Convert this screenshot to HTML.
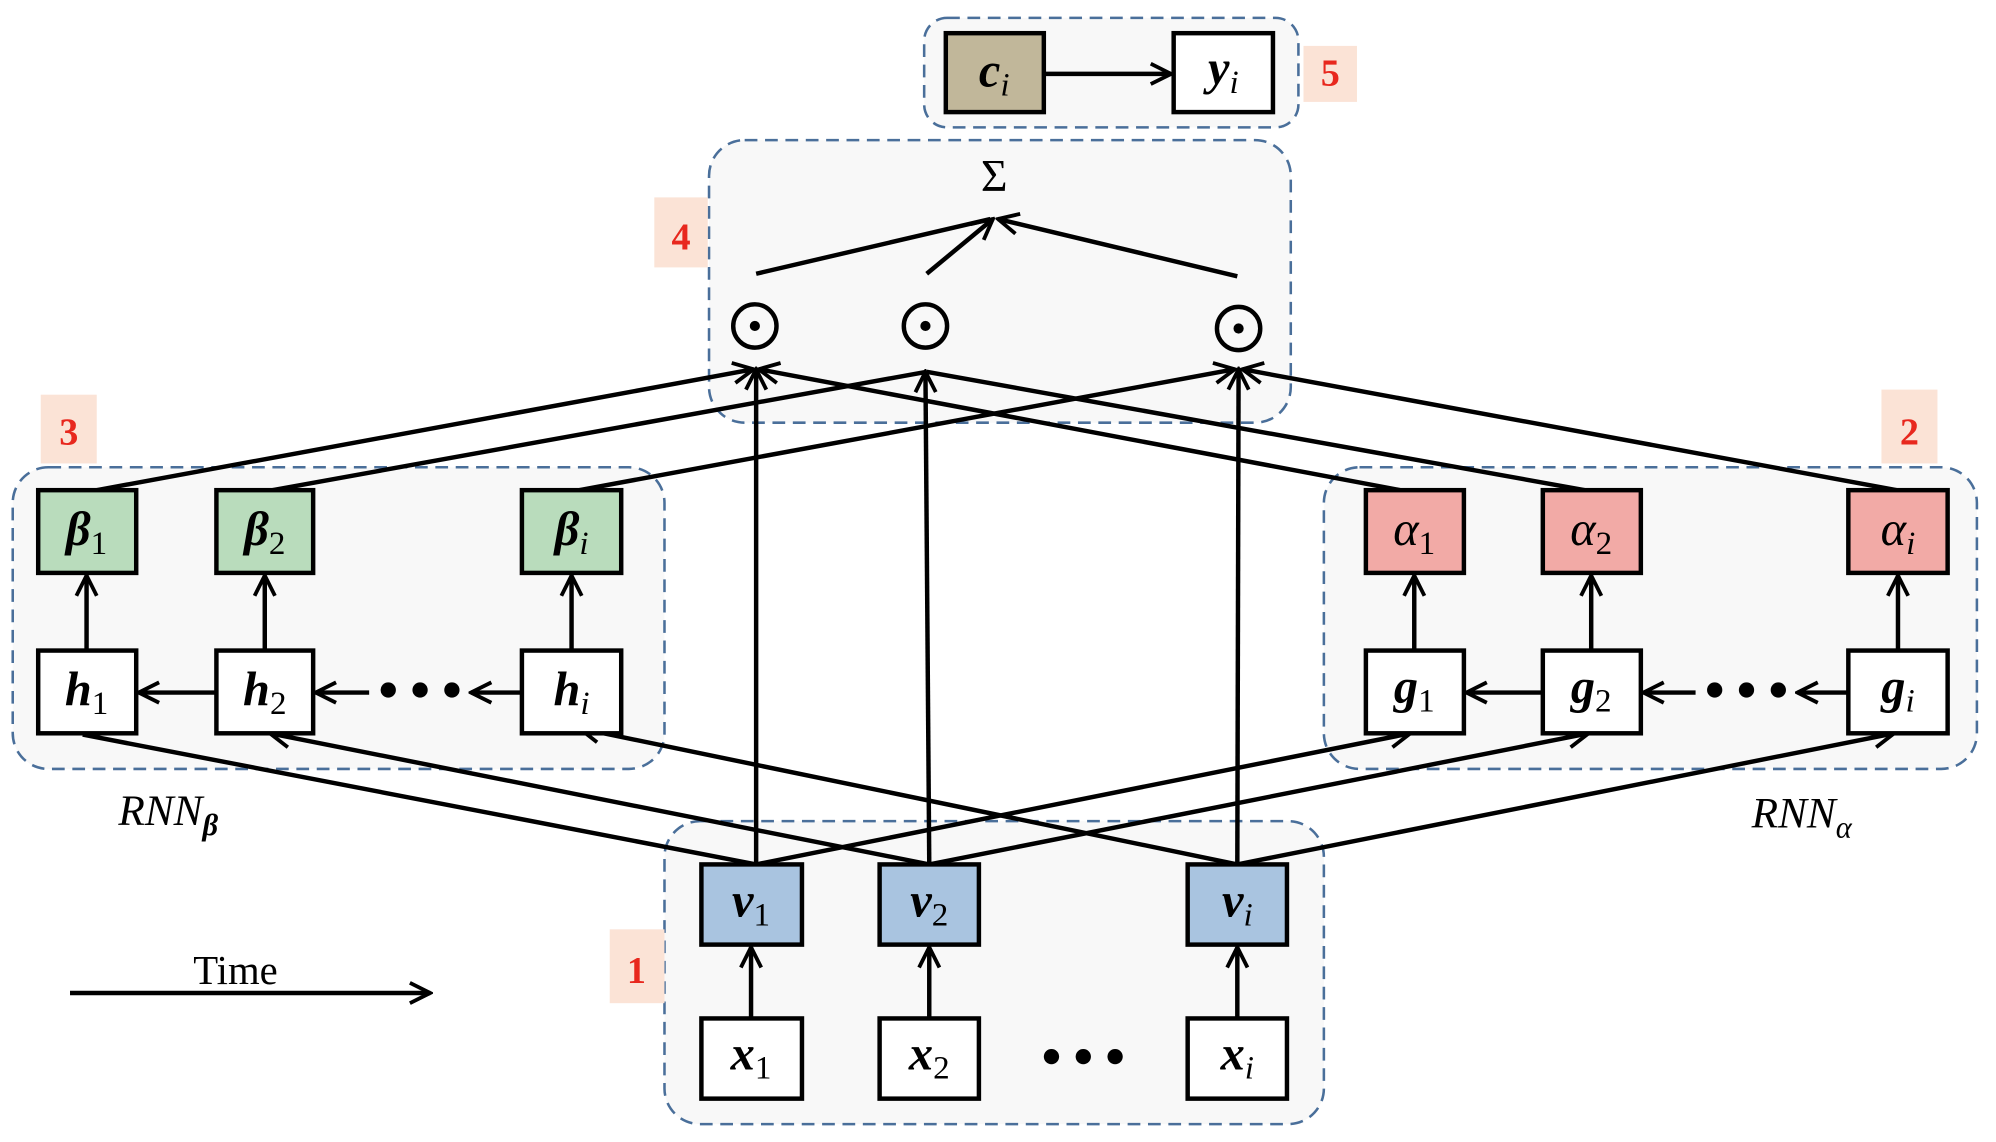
<!DOCTYPE html>
<html><head><meta charset="utf-8"><style>html,body{margin:0;padding:0;background:#fff}svg{display:block}
.m{font-family:"Liberation Serif",serif;font-style:italic;font-weight:bold;font-size:38px}
.s{font-size:26px;font-weight:normal}
.d{font-size:26px;font-weight:normal;font-style:normal}
.n{font-family:"Liberation Serif",serif;font-weight:bold;font-size:30px;fill:#e8281e}
</style></head><body>
<svg width="1996" height="1142" viewBox="0 0 1568 897" xmlns="http://www.w3.org/2000/svg">
<defs><marker id="b" viewBox="0 0 20 20" refX="18" refY="10" markerWidth="20" markerHeight="20" orient="auto" markerUnits="userSpaceOnUse"><path d="M2,2 L18,10 L2,18" fill="none" stroke="#000" stroke-width="3"/></marker></defs>
<g fill="#f8f8f8" stroke="#4a6f9a" stroke-width="2" stroke-dasharray="10,6">
<rect x="726" y="14" width="294" height="86" rx="18"/>
<rect x="557" y="110" width="457" height="222" rx="28"/>
<rect x="10" y="367" width="512" height="237" rx="28"/>
<rect x="1040" y="367" width="513" height="237" rx="28"/>
<rect x="522" y="645" width="518" height="238" rx="28"/>
</g>
<g fill="#fbe3d6"><rect x="1024" y="36" width="42" height="44"/><rect x="514" y="155" width="42" height="55"/><rect x="32" y="310" width="44" height="54"/><rect x="1478" y="306" width="44" height="58"/><rect x="479" y="730" width="43" height="58"/></g>
<g class="n" text-anchor="middle"><text x="1045" y="67">5</text><text x="535" y="196">4</text><text x="54" y="349">3</text><text x="1500" y="349">2</text><text x="500" y="772">1</text></g>
<g stroke="#000" stroke-width="3.5" fill="none" marker-end="url(#b)">
<line x1="820" y1="58" x2="920" y2="58"/>
<line x1="594" y1="215" x2="778" y2="172" marker-end="none"/>
<line x1="728" y1="215" x2="780" y2="172"/>
<line x1="972" y1="217" x2="784" y2="172"/>
<line x1="76" y1="385" x2="592" y2="290"/>
<line x1="214" y1="385" x2="728" y2="292" marker-end="none"/>
<line x1="455" y1="385" x2="970" y2="290"/>
<line x1="1100" y1="385" x2="596" y2="290"/>
<line x1="1245" y1="385" x2="728" y2="292" marker-end="none"/>
<line x1="1490" y1="385" x2="976" y2="290"/>
<line x1="594" y1="679" x2="594" y2="290"/>
<line x1="730" y1="679" x2="727" y2="292"/>
<line x1="972" y1="679" x2="973" y2="290"/>
<line x1="594" y1="679" x2="65" y2="577" marker-end="none"/>
<line x1="730" y1="679" x2="212" y2="576"/>
<line x1="972" y1="679" x2="455" y2="572"/>
<line x1="594" y1="679" x2="1108" y2="576"/>
<line x1="730" y1="679" x2="1248" y2="576"/>
<line x1="972" y1="679" x2="1488" y2="576"/>
<line x1="170" y1="544" x2="109" y2="544"/><line x1="290" y1="544" x2="248" y2="544"/><line x1="410" y1="544" x2="370" y2="544"/>
<line x1="1212" y1="544" x2="1152" y2="544"/><line x1="1332" y1="544" x2="1291" y2="544"/><line x1="1452" y1="544" x2="1412" y2="544"/>
<line x1="68" y1="511" x2="68" y2="452"/><line x1="208" y1="511" x2="208" y2="452"/><line x1="449" y1="511" x2="449" y2="452"/>
<line x1="1111" y1="511" x2="1111" y2="452"/><line x1="1250" y1="511" x2="1250" y2="452"/><line x1="1491" y1="511" x2="1491" y2="452"/>
<line x1="590" y1="800" x2="590" y2="744"/><line x1="730" y1="800" x2="730" y2="744"/><line x1="972" y1="800" x2="972" y2="744"/>
<line x1="55" y1="780" x2="338" y2="780"/>
</g>
<g stroke="#000" stroke-width="3.5">
<rect x="743" y="26" width="77" height="62" fill="#c1b79a"/><rect x="922" y="26" width="78" height="62" fill="#fff"/>
<g fill="#b9dcbc"><rect x="30" y="385" width="77" height="65"/><rect x="170" y="385" width="76" height="65"/><rect x="410" y="385" width="78" height="65"/></g>
<g fill="#fff"><rect x="30" y="511" width="77" height="65"/><rect x="170" y="511" width="76" height="65"/><rect x="410" y="511" width="78" height="65"/>
<rect x="1073" y="511" width="77" height="65"/><rect x="1212" y="511" width="77" height="65"/><rect x="1452" y="511" width="78" height="65"/>
<rect x="551" y="800" width="79" height="63"/><rect x="691" y="800" width="78" height="63"/><rect x="933" y="800" width="78" height="63"/></g>
<g fill="#f2aaa6"><rect x="1073" y="385" width="77" height="65"/><rect x="1212" y="385" width="77" height="65"/><rect x="1452" y="385" width="78" height="65"/></g>
<g fill="#a9c4e0"><rect x="551" y="679" width="79" height="63"/><rect x="691" y="679" width="78" height="63"/><rect x="933" y="679" width="78" height="63"/></g>
</g>
<g fill="none" stroke="#000" stroke-width="3.5"><circle cx="593" cy="256" r="17"/><circle cx="727" cy="256" r="17"/><circle cx="973" cy="258" r="17"/></g>
<g fill="#000"><circle cx="593" cy="256" r="4"/><circle cx="727" cy="256" r="4"/><circle cx="973" cy="258" r="4"/>
<circle cx="305" cy="542" r="6"/><circle cx="330" cy="542" r="6"/><circle cx="355" cy="542" r="6"/>
<circle cx="1347" cy="542" r="6"/><circle cx="1372" cy="542" r="6"/><circle cx="1397" cy="542" r="6"/>
<circle cx="826" cy="830" r="6"/><circle cx="851" cy="830" r="6"/><circle cx="876" cy="830" r="6"/></g>
<g class="m" text-anchor="middle">
<text x="781" y="68">c<tspan class="s" dy="7">i</tspan></text><text x="961" y="66">y<tspan class="s" dy="7">i</tspan></text>
<text x="68" y="428">β<tspan class="d" dy="7">1</tspan></text><text x="208" y="428">β<tspan class="d" dy="7">2</tspan></text><text x="449" y="428">β<tspan class="s" dy="7">i</tspan></text>
<text x="68" y="554">h<tspan class="d" dy="7">1</tspan></text><text x="208" y="554">h<tspan class="d" dy="7">2</tspan></text><text x="449" y="554">h<tspan class="s" dy="7">i</tspan></text>
<text x="1111" y="428" font-weight="normal">α<tspan class="d" dy="7">1</tspan></text><text x="1250" y="428" font-weight="normal">α<tspan class="d" dy="7">2</tspan></text><text x="1491" y="428" font-weight="normal">α<tspan class="s" dy="7">i</tspan></text>
<text x="1111" y="552">g<tspan class="d" dy="7">1</tspan></text><text x="1250" y="552">g<tspan class="d" dy="7">2</tspan></text><text x="1491" y="552">g<tspan class="s" dy="7">i</tspan></text>
<text x="590" y="720">v<tspan class="d" dy="7">1</tspan></text><text x="730" y="720">v<tspan class="d" dy="7">2</tspan></text><text x="972" y="720">v<tspan class="s" dy="7">i</tspan></text>
<text x="590" y="840">x<tspan class="d" dy="7">1</tspan></text><text x="730" y="840">x<tspan class="d" dy="7">2</tspan></text><text x="972" y="840">x<tspan class="s" dy="7">i</tspan></text>
</g>
<text x="781" y="150" text-anchor="middle" font-family="Liberation Serif,serif" font-size="36">Σ</text>
<text x="185" y="773" text-anchor="middle" font-family="Liberation Serif,serif" font-size="32">Time</text>
<text x="93" y="648" font-family="Liberation Serif,serif" font-style="italic" font-size="34">RNN<tspan font-size="24" font-weight="bold" dy="8">β</tspan></text>
<text x="1376" y="650" font-family="Liberation Serif,serif" font-style="italic" font-size="34">RNN<tspan font-size="24" dy="8">α</tspan></text>
</svg>
</body></html>
